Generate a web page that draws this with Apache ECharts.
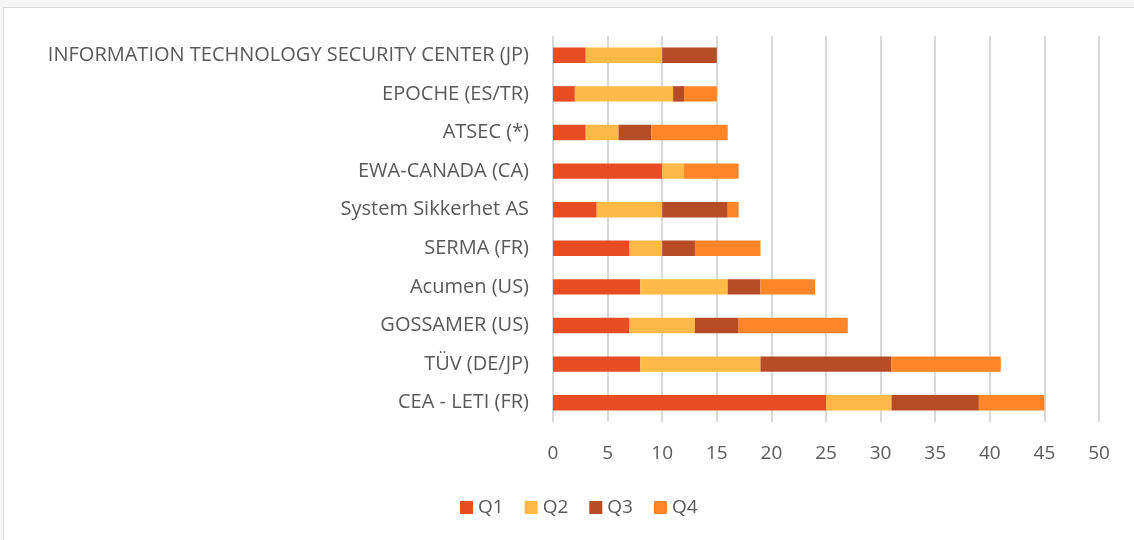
<!DOCTYPE html>
<html>
<head>
<meta charset="utf-8">
<script src="https://cdn.jsdelivr.net/npm/echarts@6/dist/echarts.min.js"></script>
<style>
  html, body { margin: 0; padding: 0; background: #f7f6f6; }
  #frame { position: absolute; left: 3px; top: 7px; width: 1131px; height: 533px; background: #fff; border-left: 1px solid #d9d9d9; border-top: 1px solid #d9d9d9; box-sizing: border-box; }
  #chart { width: 100%; height: 100%; }
</style>
</head>
<body>
<div id="frame"><div id="chart"></div></div>
<script>
// labs, top to bottom as in the picture
const labs = [
  "INFORMATION TECHNOLOGY SECURITY CENTER (JP)",
  "EPOCHE (ES/TR)",
  "ATSEC (*)",
  "EWA-CANADA (CA)",
  "System Sikkerhet AS",
  "SERMA (FR)",
  "Acumen (US)",
  "GOSSAMER (US)",
  "TÜV (DE/JP)",
  "CEA - LETI (FR)"
];
const q1 = [3, 2, 3, 10, 4, 7, 8, 7, 8, 25];
const q2 = [7, 9, 3, 2, 6, 3, 8, 6, 11, 6];
const q3 = [5, 1, 3, 0, 6, 3, 3, 4, 12, 8];
const q4 = [0, 3, 7, 5, 1, 6, 5, 10, 10, 6];

const seriesNames = ["Q1", "Q2", "Q3", "Q4"];
const colors = ["#e64d23", "#ffb946", "#b74b26", "#fe8629"];

const chart = echarts.init(document.getElementById("chart"));
const font = "'Open Sans', 'Noto Sans', sans-serif";

chart.setOption({
  animation: false,
  color: colors,
  textStyle: { fontFamily: font },
  grid: { left: 549, right: 35, top: 28, bottom: 118 },
  legend: {
    bottom: 18,
    left: 451,
    itemWidth: 13,
    itemHeight: 13,
    itemGap: 21,
    icon: "rect",
    textStyle: { fontSize: 19, color: "#595959", fontFamily: font },
    data: seriesNames
  },
  xAxis: {
    type: "value",
    min: 0,
    max: 50,
    interval: 5,
    axisLine: { show: false },
    axisTick: { show: false },
    axisLabel: { fontSize: 19, color: "#595959", margin: 22 },
    splitLine: { lineStyle: { color: "#d9d9d9", width: 2 } }
  },
  yAxis: {
    type: "category",
    inverse: true,
    data: labs,
    axisLine: { show: false },
    axisTick: { show: false },
    axisLabel: { fontSize: 20, color: "#595959", margin: 24 }
  },
  series: [q1, q2, q3, q4].map((d, i) => ({
    name: seriesNames[i],
    type: "bar",
    stack: "total",
    barWidth: "40%",
    data: d
  }))
});
</script>
</body>
</html>
